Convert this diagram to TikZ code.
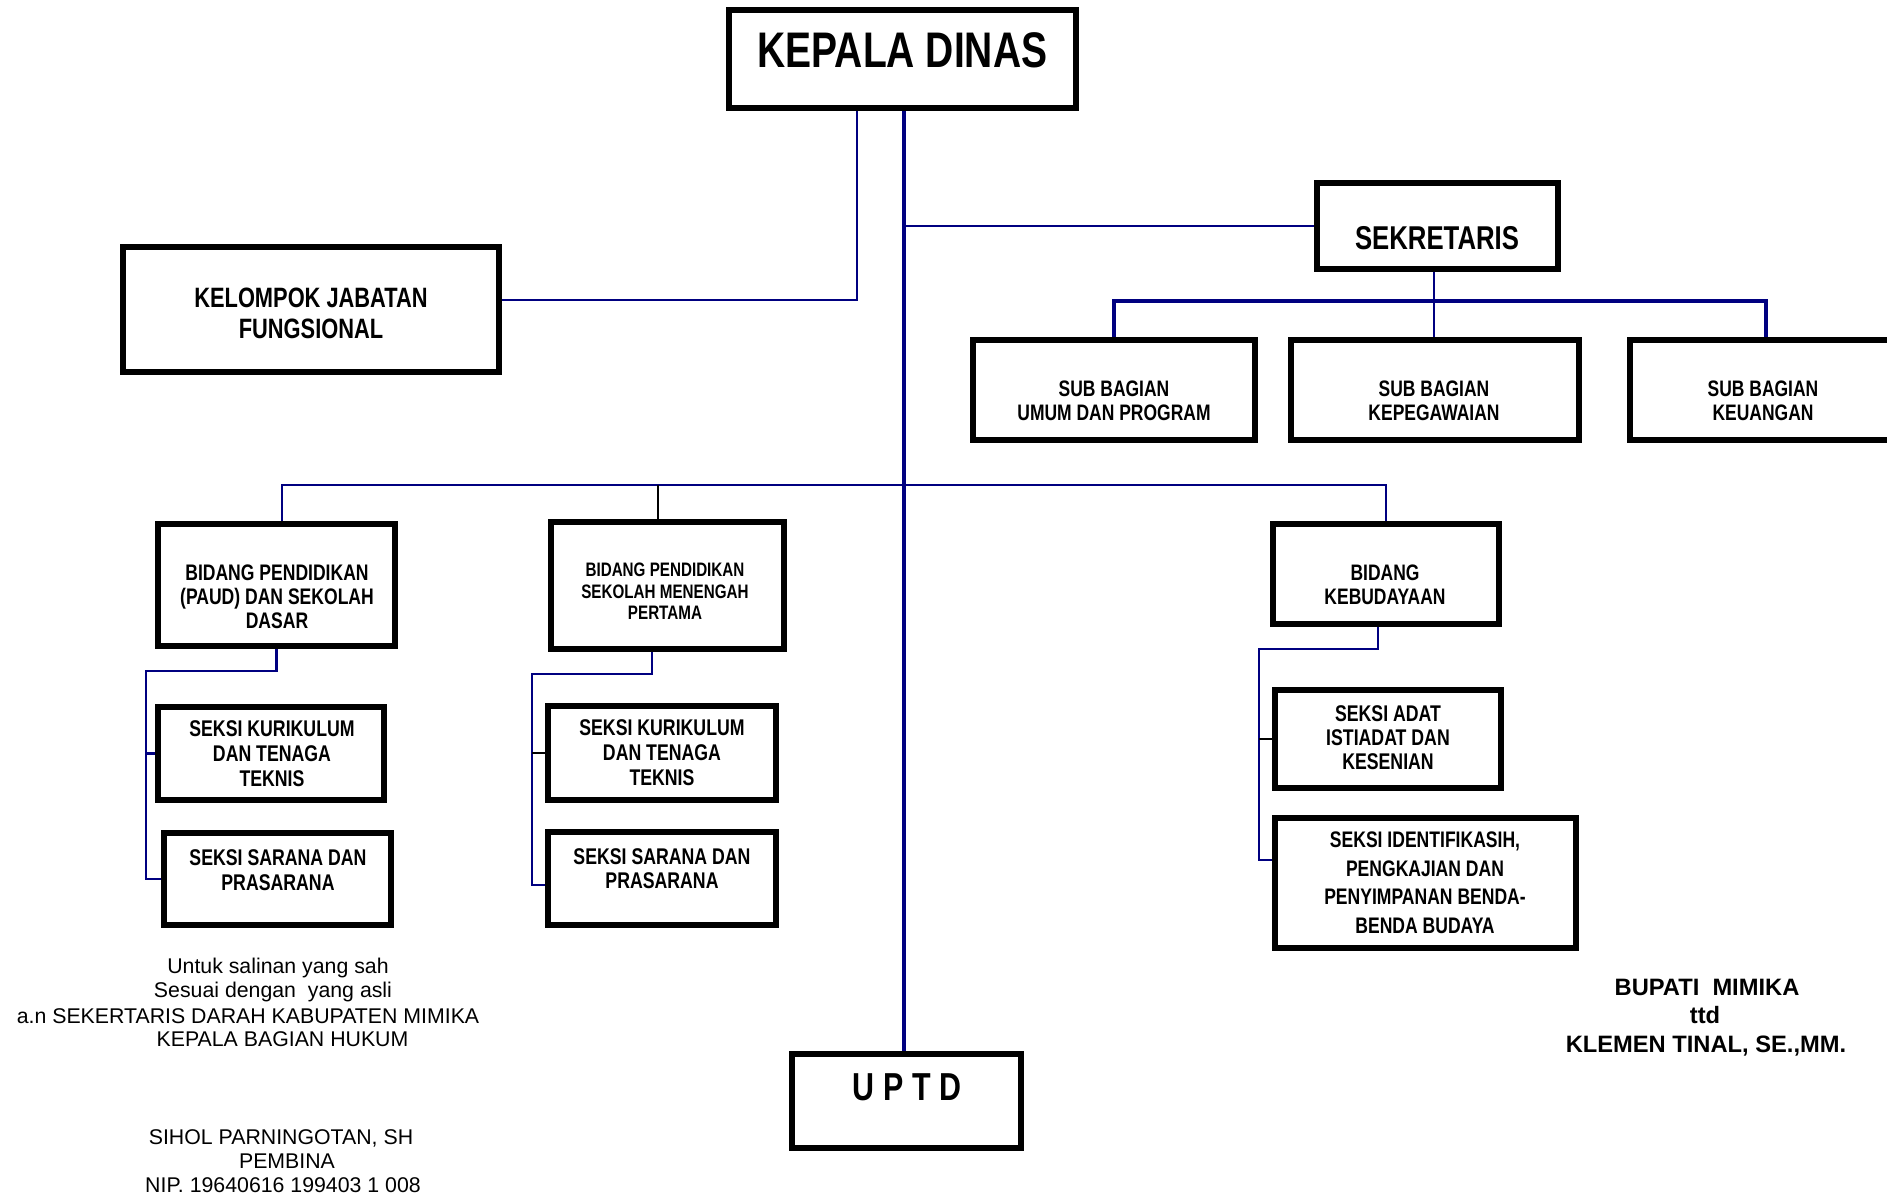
\documentclass[tikz,border=0pt]{standalone}
\usepackage{fontspec}
\setmainfont{Liberation Sans}
\newfontfamily\boxfont{Liberation Sans}[FakeStretch=0.78]
\usetikzlibrary{backgrounds}
\definecolor{navyc}{RGB}{0,0,128}
\newcommand\boxsz[2]{\boxfont\bfseries\fontsize{#1}{#2}\selectfont}

\begin{document}
\begin{tikzpicture}[x=1pt,y=-1pt,
  box/.style={draw=black,line width=6pt,fill=white,rectangle,inner sep=0pt,outer sep=0pt},
  lbl/.style={align=center,inner sep=0pt,text=black},
  link/.style={draw=navyc,line width=2.5pt},
  thinlink/.style={draw=navyc,line width=2pt},
  heavy/.style={draw=navyc,line width=4pt},
  blk/.style={draw=black,line width=1.6pt},
  note/.style={anchor=base,inner sep=0pt,font=\fontsize{21.3}{24}\selectfont},
  sign/.style={anchor=base,inner sep=0pt,font=\bfseries\fontsize{23.7}{28}\selectfont},
]
\useasboundingbox (0,0) rectangle (1887,1196);

% ---------- boxes ----------
\node[box,minimum width=347pt,minimum height=98pt] (kd) at (902.5,59) {};
\node[lbl,font={\boxsz{50}{55}}] (kdt) at (902.5,50) {KEPALA DINAS};

\node[box,minimum width=376pt,minimum height=125pt] (kjf) at (311,309.5) {};
\node[lbl,font={\boxsz{28}{31}}] (kjft) at (311,313.5) {KELOMPOK JABATAN\\FUNGSIONAL};

\node[box,minimum width=241pt,minimum height=86pt] (sek) at (1437.5,226) {};
\node[lbl,font={\boxsz{33}{36}}] (sekt) at (1437,238) {SEKRETARIS};

\node[box,minimum width=282pt,minimum height=100pt] (sbu) at (1114,390) {};
\node[lbl,font={\boxsz{22.4}{24}}] (sbut) at (1114,401) {SUB BAGIAN\\UMUM DAN PROGRAM};
\node[box,minimum width=288pt,minimum height=100pt] (sbk) at (1435,390) {};
\node[lbl,font={\boxsz{22.4}{24}}] (sbkt) at (1434,401) {SUB BAGIAN\\KEPEGAWAIAN};
\node[box,minimum width=272pt,minimum height=100pt] (sbku) at (1766,390) {};
\node[lbl,font={\boxsz{22.4}{24}}] (sbkut) at (1763,401) {SUB BAGIAN\\KEUANGAN};

\node[box,minimum width=237pt,minimum height=122pt] (bp) at (276.5,585) {};
\node[lbl,font={\boxsz{22.5}{24}}] (bpt) at (277,597) {BIDANG PENDIDIKAN\\(PAUD) DAN SEKOLAH\\DASAR};
\node[box,minimum width=233pt,minimum height=127pt] (bs) at (667.5,585.5) {};
\node[lbl,font={\boxsz{19.5}{21.5}}] (bst) at (665,591.5) {BIDANG PENDIDIKAN\\SEKOLAH MENENGAH\\PERTAMA};
\node[box,minimum width=226pt,minimum height=100pt] (bk) at (1386,574) {};
\node[lbl,font={\boxsz{22.4}{24}}] (bkt) at (1385,585) {BIDANG\\KEBUDAYAAN};

\node[box,minimum width=226pt,minimum height=93pt] (pk) at (271,753.5) {};
\node[lbl,font={\boxsz{22.7}{25}}] (pkt) at (272,754) {SEKSI KURIKULUM\\DAN TENAGA\\TEKNIS};
\node[box,minimum width=227pt,minimum height=92pt] (ps) at (277.5,879) {};
\node[lbl,font={\boxsz{22.7}{24.5}}] (pst) at (278,870) {SEKSI SARANA DAN\\PRASARANA};
\node[box,minimum width=228pt,minimum height=94pt] (sk) at (662,753) {};
\node[lbl,font={\boxsz{22.7}{25}}] (skt) at (662,752.5) {SEKSI KURIKULUM\\DAN TENAGA\\TEKNIS};
\node[box,minimum width=228pt,minimum height=93pt] (ss) at (662,878.5) {};
\node[lbl,font={\boxsz{22.7}{24.5}}] (sst) at (662,868.5) {SEKSI SARANA DAN\\PRASARANA};

\node[box,minimum width=226pt,minimum height=98pt] (ka) at (1388,739) {};
\node[lbl,font={\boxsz{22.7}{24}}] (kat) at (1388,738) {SEKSI ADAT\\ISTIADAT DAN\\KESENIAN};
\node[box,minimum width=301pt,minimum height=130pt] (ki) at (1425.5,883) {};
\node[lbl,font={\boxsz{22.5}{28.5}}] (kit) at (1425,882.5) {SEKSI IDENTIFIKASIH,\\PENGKAJIAN DAN\\PENYIMPANAN BENDA-\\BENDA BUDAYA};

\node[box,minimum width=229pt,minimum height=94pt] (uptd) at (906.5,1101) {};
\node[lbl,font={\boxsz{39}{42}}] (uptdt) at (907,1087.5) {U P T D};

% ---------- helper points on the connector paths ----------
\coordinate (tr) at (904,0);
\coordinate (j1) at (857,300);
\coordinate (sb) at (1434,301);
\coordinate (b1) at (282,485);
\coordinate (b2) at (658,485);
\coordinate (b3) at (1386,485);
\coordinate (p1) at (146,671);
\coordinate (s0) at (652,674);
\coordinate (s1) at (532,674);
\coordinate (s2) at (532,885);
\coordinate (k0) at (1378,649);
\coordinate (k1) at (1259,649);
\coordinate (k2) at (1259,860);

% ---------- connectors ----------
\begin{scope}[on background layer]
\fill[white] (0,0) rectangle (1887,1196);
% main trunk down to UPTD
\draw[heavy] (kd.south -| tr) -- (uptd.north -| tr);
% functional group
\draw[thinlink] (kd.south -| j1) |- (kjf.east |- j1);
% secretariat
\draw[thinlink] (sek.west -| tr) -- (sek.west);
\draw[thinlink] (sek.south -| sb) -- (sbk.north -| sb);
\draw[heavy] (sbu.north) |- (sb) -| (sbku.north);
% divisions
\draw[thinlink] (bp.north -| b1) -- (b1) -- (b3) -- (bk.north -| b3);
\draw[blk] (b2) -- (bs.north -| b2);
% sections under PAUD / SD
\draw[link] (bp.south) |- (p1) |- (ps.west);
\draw[link] (p1 |- pk.west) -- (pk.west);
% sections under SMP
\draw[link] (bs.south -| s0) -- (s0) -- (s1) -- (s2) -- (s2 -| ss.west);
\draw[blk] (s1 |- sk.west) -- (sk.west);
% sections under culture
\draw[link] (bk.south -| k0) -- (k0) -- (k1) -- (k2) -- (k2 -| ki.west);
\draw[blk] (k1 |- ka.west) -- (ka.west);
\end{scope}

% ---------- signatures ----------
\node[note] (n1) at (278,973) {Untuk salinan yang sah};
\node[note] (n2) at (273,997) {Sesuai dengan\ \ yang asli};
\node[note] (n3) at (248,1023) {a.n SEKERTARIS DARAH KABUPATEN MIMIKA};
\node[note] (n4) at (282.5,1046) {KEPALA BAGIAN HUKUM};
\node[note] (n5) at (281,1144) {SIHOL PARNINGOTAN, SH};
\node[note] (n6) at (287,1168) {PEMBINA};
\node[note] (n7) at (283,1192) {NIP. 19640616 199403 1 008};

\node[sign] (g1) at (1707,995) {BUPATI\ \ MIMIKA};
\node[sign] (g2) at (1705,1023) {ttd};
\node[sign] (g3) at (1706,1052) {KLEMEN TINAL, SE.,MM.};
\end{tikzpicture}
\end{document}
